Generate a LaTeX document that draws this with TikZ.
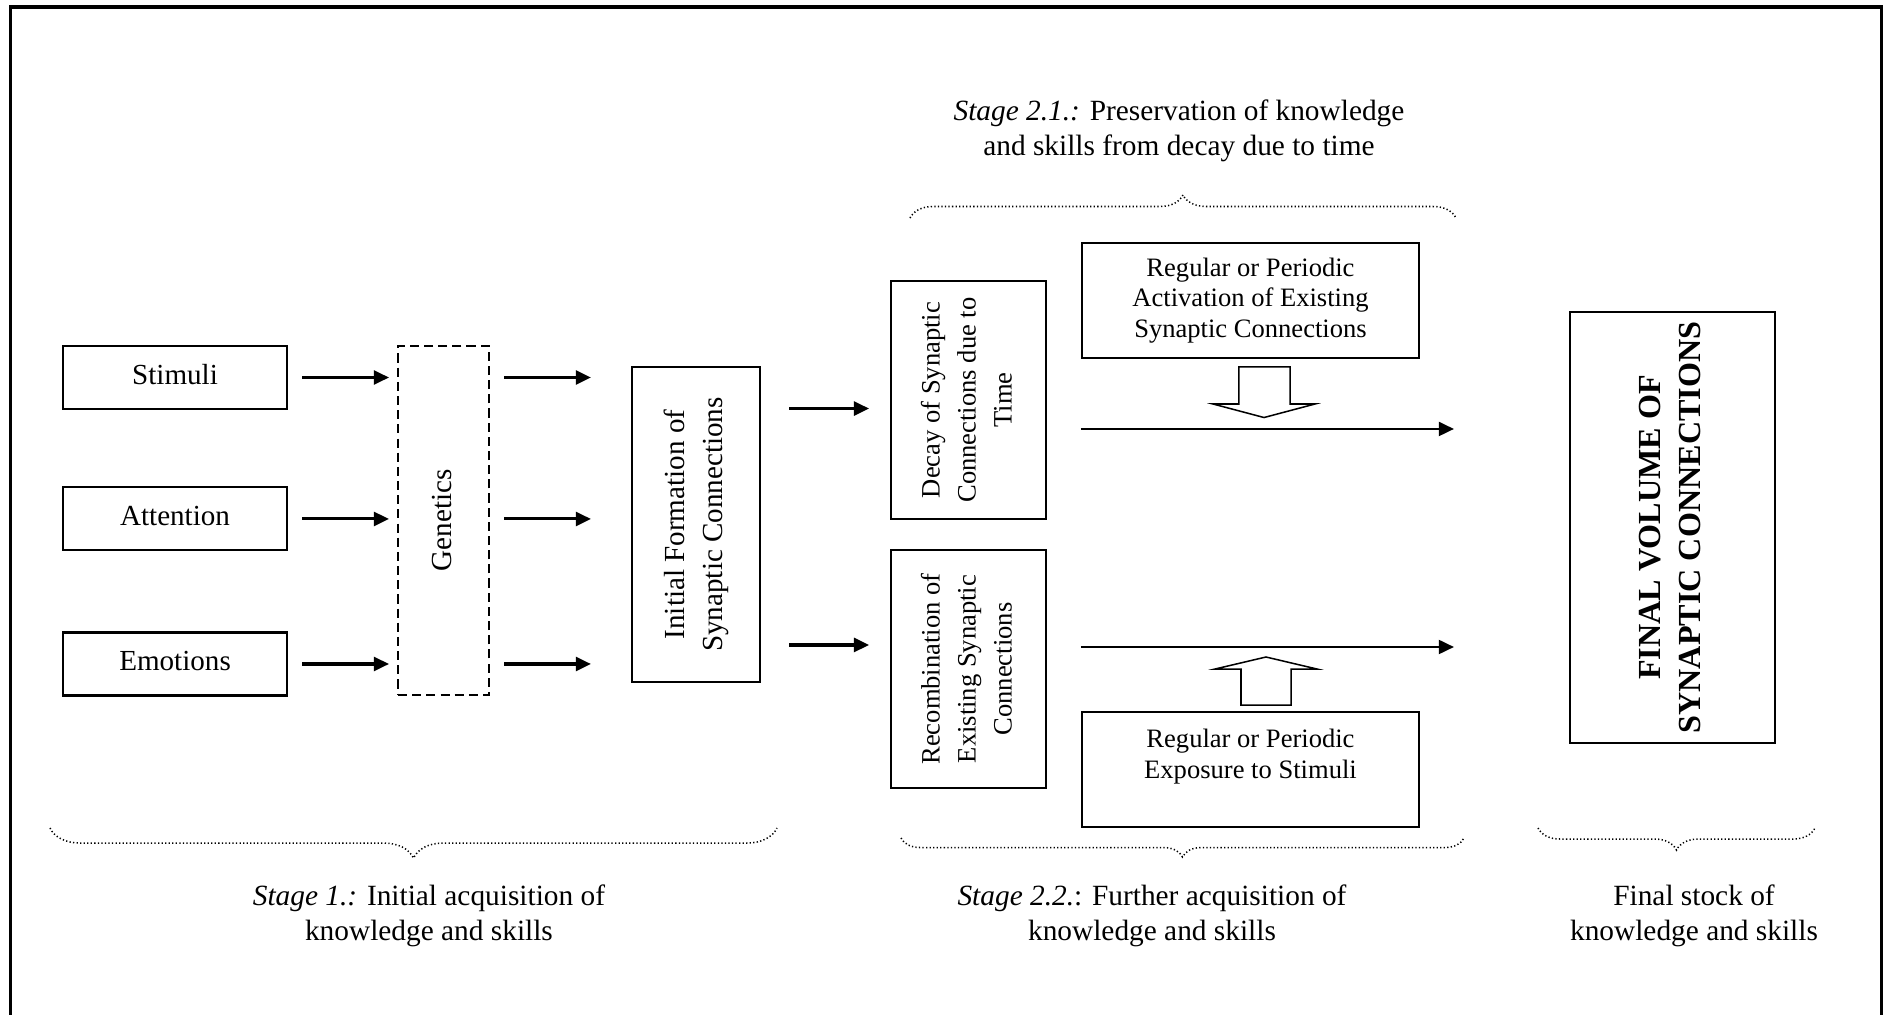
\documentclass[tikz,border=0pt]{standalone}
\usepackage{fontspec}
\setmainfont{Liberation Serif}
\usepackage{graphicx}
\usetikzlibrary{arrows.meta,decorations.pathreplacing}

% upright text turned by 90 degrees
\newcommand{\uptext}[2][c]{\rotatebox{90}{\begin{tabular}{@{}#1@{}}#2\end{tabular}}}

\tikzset{
  nbox/.style={draw, line width=0.8pt, inner sep=0pt, align=center},
  inbox/.style={nbox, minimum width=3.111cm, minimum height=0.875cm, text depth=0.5ex, font=\fontsize{11.5}{13}\selectfont},
  regbox/.style={nbox, minimum width=4.681cm, minimum height=1.597cm, font=\fontsize{10.5}{12.2}\selectfont},
  synbox/.style={nbox, minimum width=2.153cm, minimum height=3.306cm, font=\fontsize{10.5}{14.2}\selectfont},
  arr/.style={-{Triangle[length=6pt,width=5.5pt]}, line width=1.2pt},
  hollow/.style={draw, line width=0.6pt, line join=miter},
  brc/.style={decorate, line width=0.6pt, dash pattern=on 0.5pt off 0.9pt},
  capt/.style={align=center, font=\fontsize{11.6}{13.8}\selectfont},
}

\begin{document}
\begin{tikzpicture}
  \useasboundingbox (0,0) rectangle (26.153,-14.097);
  % outer frame, open at the bottom
  \draw[line width=1.4pt] (0.146,-14.3) -- (0.146,-0.097) -- (26.132,-0.097) -- (26.132,-14.3);

  % stage 1
  \node[inbox] (stim) at (2.431,-5.243) {Stimuli};
  \node[inbox] (att)  at (2.431,-7.208) {Attention};
  \node[inbox] (emo)  at (2.431,-9.222) {Emotions};
  \node[nbox, dash pattern=on 3.6pt off 2pt, minimum width=1.264cm, minimum height=4.847cm,
        font=\fontsize{11.5}{15}\selectfont] (gen) at (6.160,-7.229) {\uptext{Genetics}};
  \node[nbox, minimum width=1.778cm, minimum height=4.375cm, font=\fontsize{11.5}{15}\selectfont]
        (init) at (9.667,-7.285) {\uptext{Initial Formation of\\Synaptic Connections}};

  \draw[arr, shorten <=0.194cm, shorten >=0.111cm] (stim.east) -- (stim -| gen.west);
  \draw[arr, shorten <=0.194cm, shorten >=0.111cm] (att.east) -- (att -| gen.west);
  \draw[arr, shorten <=0.194cm, shorten >=0.111cm] (emo.east) -- (emo -| gen.west);
  \draw[arr, shorten <=0.194cm, shorten >=0.556cm] (stim -| gen.east) -- (stim -| init.west);
  \draw[arr, shorten <=0.194cm, shorten >=0.556cm] (att -| gen.east) -- (att -| init.west);
  \draw[arr, shorten <=0.194cm, shorten >=0.556cm] (emo -| gen.east) -- (emo -| init.west);

  % stage 2
  \node[synbox] (dec) at (13.451,-5.556) {\uptext{Decay of Synaptic\\Connections due to\\Time}};
  \node[synbox] (rec) at (13.451,-9.292) {\uptext{Recombination of\\Existing Synaptic\\Connections}};
  \node[regbox] (act) at (17.368,-4.174) {Regular or Periodic\\Activation of Existing\\Synaptic Connections};
  \node[regbox] (expo) at (17.368,-10.688) {};
  \node[font=\fontsize{10.5}{12.2}\selectfont, align=center] (expotxt) at (17.368,-10.508)
        {Regular or Periodic\\Exposure to Stimuli};

  \coordinate (r1) at (0,-5.674);
  \coordinate (r2) at (0,-8.958);
  \coordinate (e1) at (20.194,-5.958);
  \coordinate (e2) at (20.194,-8.986);
  \draw[arr, shorten <=0.389cm, shorten >=0.29cm] (init.east |- r1) -- (dec.west |- r1);
  \draw[arr, shorten <=0.389cm, shorten >=0.29cm] (init.east |- r2) -- (rec.west |- r2);
  \draw[arr, line width=1pt] (act.west |- e1) -- (e1);
  \draw[arr, line width=1pt] (act.west |- e2) -- (e2);

  % block arrows
  \draw[hollow] (17.208,-5.097) -- (17.917,-5.097) -- (17.917,-5.611) -- (18.264,-5.611)
        -- (17.556,-5.799) -- (16.847,-5.611) -- (17.208,-5.611) -- cycle;
  \draw[hollow] (17.236,-9.792) -- (17.931,-9.792) -- (17.931,-9.292) -- (18.292,-9.292)
        -- (17.583,-9.125) -- (16.875,-9.292) -- (17.236,-9.292) -- cycle;

  % final stock
  \node[nbox, minimum width=2.847cm, minimum height=5.986cm, font=\bfseries\fontsize{12.7}{15.8}\selectfont]
        (fin) at (23.229,-7.326) {\uptext{FINAL VOLUME OF\\SYNAPTIC CONNECTIONS}};

  % braces and stage captions
  \draw[brc, decoration={brace, amplitude=0.32cm}] (12.639,-3.028) -- (20.222,-3.028);
  \draw[brc, decoration={brace, mirror, amplitude=0.417cm}] (0.694,-11.5) -- (10.792,-11.5);
  \draw[brc, decoration={brace, mirror, amplitude=0.264cm}] (12.514,-11.639) -- (20.333,-11.639);
  \draw[brc, decoration={brace, mirror, amplitude=0.306cm}] (21.361,-11.5) -- (25.208,-11.5);

  \node[capt] (s21) at (16.375,-1.811) {\textit{Stage 2.1.:} Preservation of knowledge\\and skills from decay due to time};
  \node[capt] (s1) at (5.958,-12.722) {\textit{Stage 1.:} Initial acquisition of\\knowledge and skills};
  \node[capt] (s22) at (16.0,-12.722) {\textit{Stage 2.2.}: Further acquisition of\\knowledge and skills};
  \node[capt] (fst) at (23.528,-12.722) {Final stock of\\knowledge and skills};
\end{tikzpicture}
\end{document}
